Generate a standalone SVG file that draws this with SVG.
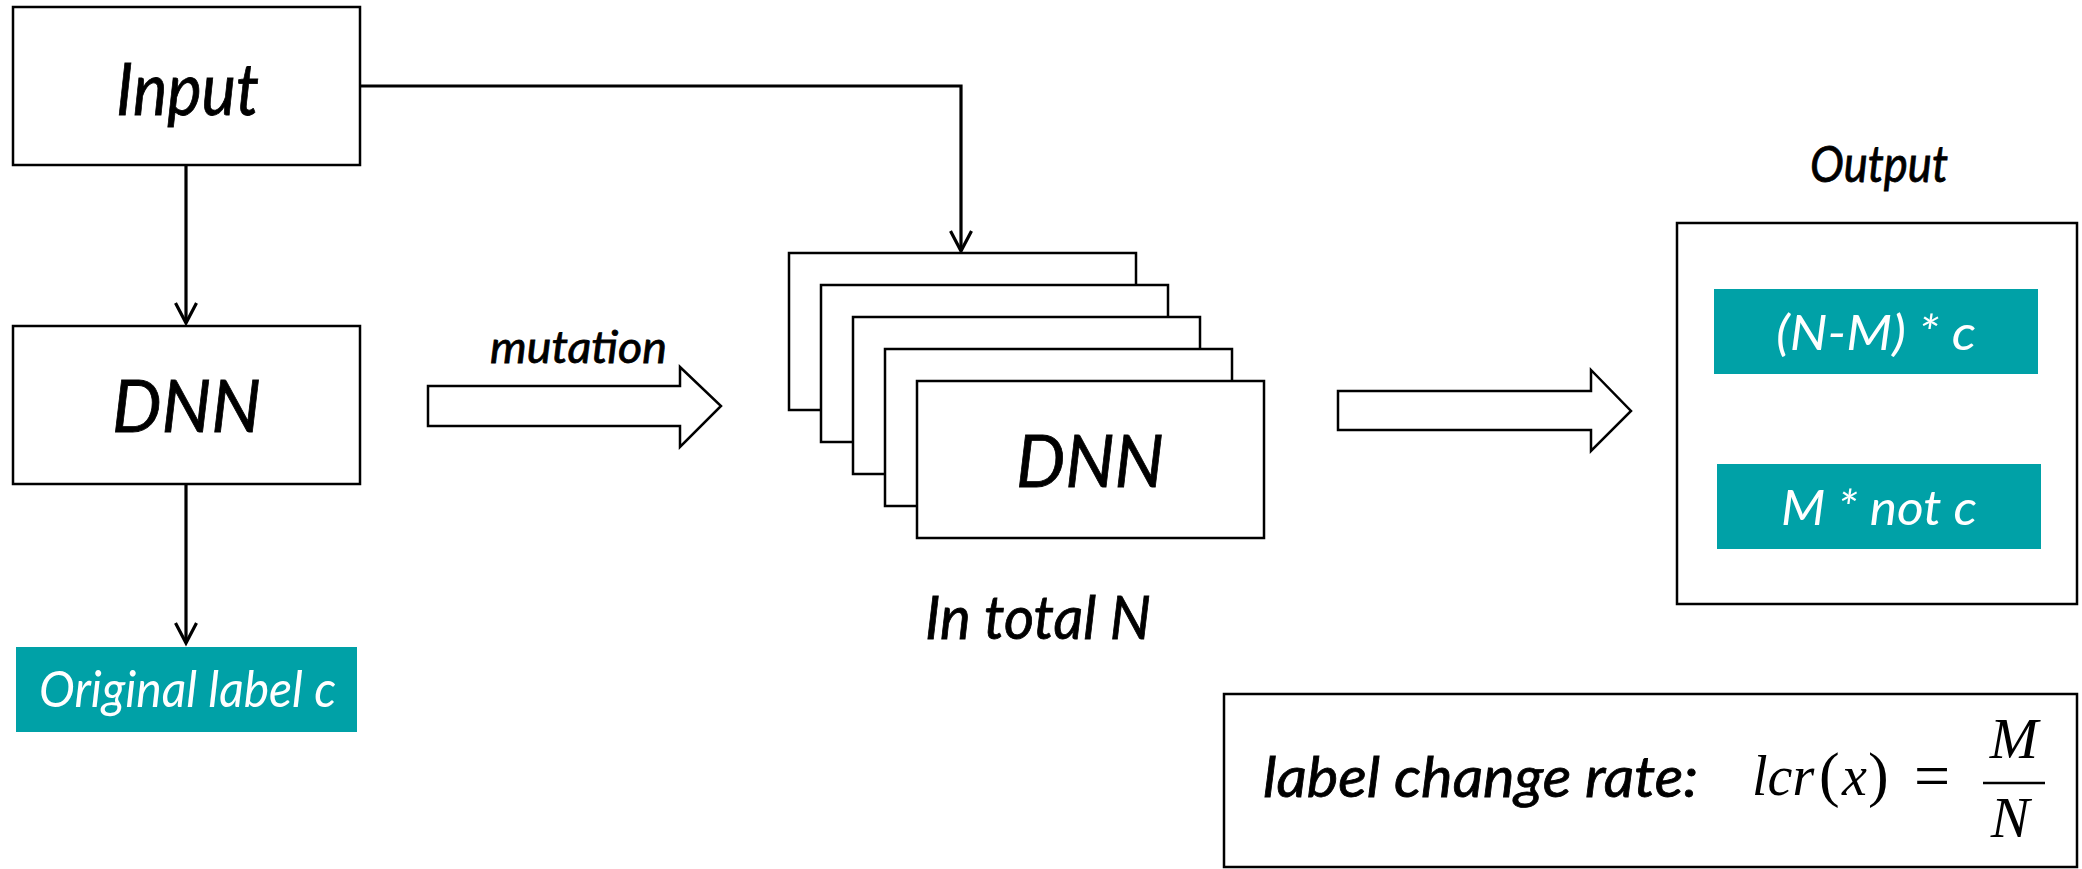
<svg xmlns="http://www.w3.org/2000/svg" width="2082" height="869" viewBox="0 0 2082 869">
  <style>
    .box { fill: #ffffff; stroke: #000000; stroke-width: 2.5; }
    .tag { fill: #00A1A7; }
    .lbl { font-family: Lato, "Open Sans", "Liberation Sans", sans-serif; font-style: italic; fill: #000000; stroke: #000000; stroke-width: 0.8; }
    .wht { font-family: Lato, "Open Sans", "Liberation Sans", sans-serif; font-style: italic; fill: #ffffff; }
    .math { font-family: "Liberation Serif", "DejaVu Serif", serif; fill: #000000; }
    .wire { fill: none; stroke: #000000; stroke-width: 3.2; }
    .fat { fill: #ffffff; stroke: #000000; stroke-width: 2.5; stroke-linejoin: miter; }
  </style>
  <defs>
    <!-- open chevron arrowhead, tip at the path end -->
    <marker id="vhead" viewBox="-24 -13 26 26" refX="0" refY="0" markerWidth="26" markerHeight="26" markerUnits="userSpaceOnUse" orient="auto" overflow="visible">
      <path d="M -20 -10.5 L 0 0 L -20 10.5" fill="none" stroke="#000000" stroke-width="3.2"/>
    </marker>
  </defs>

  <rect width="2082" height="869" fill="#ffffff"/>

  <!-- connectors -->
  <g id="connectors">
    <path class="wire" d="M 186 166 L 186 323" marker-end="url(#vhead)"/>
    <path class="wire" d="M 186 484 L 186 643" marker-end="url(#vhead)"/>
    <path class="wire" d="M 360 86 L 961 86 L 961 251" marker-end="url(#vhead)"/>
    <!-- block arrows -->
    <polygon class="fat" points="428,386 680,386 680,367 721,406 680,447 680,426 428,426"/>
    <polygon class="fat" points="1338,391 1591,391 1591,370 1631,411 1591,451 1591,430 1338,430"/>
    <text class="lbl" x="490" y="363" font-size="45" stroke-width="0.6" textLength="177" lengthAdjust="spacingAndGlyphs">mutation</text>
  </g>

  <g id="input">
    <rect class="box" x="13" y="7" width="347" height="158"/>
    <text class="lbl" x="116" y="115" font-size="72" textLength="143" lengthAdjust="spacingAndGlyphs">Input</text>
  </g>

  <g id="dnn">
    <rect class="box" x="13" y="326" width="347" height="158"/>
    <text class="lbl" x="112" y="432" font-size="71" textLength="149" lengthAdjust="spacingAndGlyphs">DNN</text>
  </g>

  <g id="original-label">
    <rect class="tag" x="16" y="647" width="341" height="85"/>
    <text class="wht" x="39" y="707" font-size="50" textLength="297" lengthAdjust="spacingAndGlyphs">Original label c</text>
  </g>

  <g id="mutants">
    <rect class="box" x="789" y="253" width="347" height="157"/>
    <rect class="box" x="821" y="285" width="347" height="157"/>
    <rect class="box" x="853" y="317" width="347" height="157"/>
    <rect class="box" x="885" y="349" width="347" height="157"/>
    <rect class="box" x="917" y="381" width="347" height="157"/>
    <text class="lbl" x="1016" y="487" font-size="72" textLength="148" lengthAdjust="spacingAndGlyphs">DNN</text>
    <text class="lbl" x="925" y="639" font-size="60" textLength="226" lengthAdjust="spacingAndGlyphs">In total N</text>
  </g>

  <g id="output">
    <text class="lbl" x="1810" y="182" font-size="50" stroke-width="0.6" textLength="138" lengthAdjust="spacingAndGlyphs">Output</text>
    <rect class="box" x="1677" y="223" width="400" height="381"/>
    <rect class="tag" x="1714" y="289" width="324" height="85"/>
    <text class="wht" x="1776" y="350" font-size="48" textLength="200" lengthAdjust="spacingAndGlyphs">(N-M) * c</text>
    <rect class="tag" x="1717" y="464" width="324" height="85"/>
    <text class="wht" x="1781" y="525" font-size="48" textLength="196" lengthAdjust="spacingAndGlyphs">M * not c</text>
  </g>

  <g id="lcr">
    <rect class="box" x="1224" y="694" width="853" height="173"/>
    <text class="lbl" x="1263" y="797" font-size="56" stroke-width="0.6" textLength="435" lengthAdjust="spacingAndGlyphs">label change rate:</text>
    <text class="math" y="795"><tspan x="1752" font-size="56" font-style="italic">lcr</tspan><tspan x="1819" font-size="62">(</tspan><tspan x="1842" font-size="56" font-style="italic">x</tspan><tspan x="1868" font-size="62">)</tspan></text>
    <text class="math" x="1914" y="797" font-size="64">=</text>
    <line x1="1983" y1="783" x2="2045" y2="783" stroke="#000000" stroke-width="2.5"/>
    <text class="math" x="2014" y="758" font-size="58" font-style="italic" text-anchor="middle">M</text>
    <text class="math" x="2010" y="837" font-size="58" font-style="italic" text-anchor="middle">N</text>
  </g>
</svg>
